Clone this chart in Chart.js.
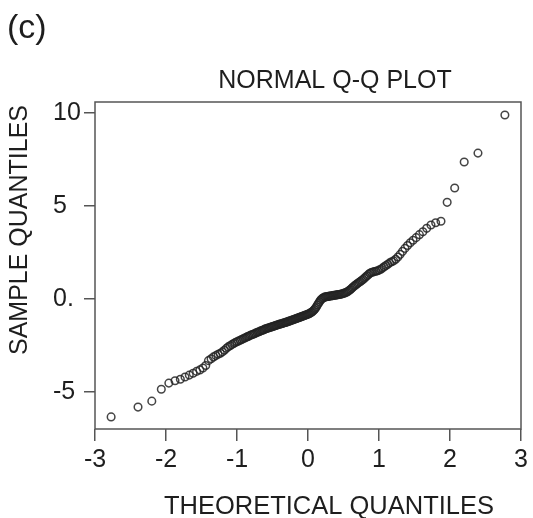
<!DOCTYPE html>
<html>
<head>
<meta charset="utf-8">
<script src="https://cdn.jsdelivr.net/npm/chart.js@4.4.1/dist/chart.umd.min.js"></script>
<style>
  html, body { margin: 0; padding: 0; background: #ffffff; }
  canvas { display: block; }
</style>
</head>
<body>
<canvas id="qq" width="533" height="518"></canvas>
<script>
// Normal quantiles for the 180 ordered observations
const theoreticalQuantiles = [
  -2.773, -2.394, -2.200, -2.066, -1.960, -1.873, -1.798, -1.732, -1.672, -1.618,
  -1.569, -1.523, -1.480, -1.440, -1.402, -1.365, -1.331, -1.298, -1.266, -1.235,
  -1.206, -1.178, -1.150, -1.124, -1.098, -1.073, -1.048, -1.025, -1.001, -0.979,
  -0.956, -0.935, -0.913, -0.892, -0.872, -0.852, -0.832, -0.812, -0.793, -0.774,
  -0.755, -0.737, -0.719, -0.701, -0.683, -0.666, -0.649, -0.631, -0.615, -0.598,
  -0.581, -0.565, -0.548, -0.532, -0.516, -0.501, -0.485, -0.469, -0.454, -0.439,
  -0.423, -0.408, -0.393, -0.378, -0.363, -0.349, -0.334, -0.319, -0.305, -0.290,
  -0.276, -0.261, -0.247, -0.233, -0.219, -0.204, -0.189, -0.176, -0.162, -0.147,
  -0.133, -0.119, -0.105, -0.091, -0.077, -0.063, -0.049, -0.035, -0.021, -0.007,
   0.007,  0.021,  0.035,  0.049,  0.063,  0.077,  0.091,  0.105,  0.119,  0.133,
   0.147,  0.162,  0.176,  0.189,  0.204,  0.219,  0.233,  0.247,  0.261,  0.276,
   0.290,  0.305,  0.319,  0.334,  0.349,  0.363,  0.378,  0.393,  0.408,  0.423,
   0.439,  0.454,  0.469,  0.485,  0.501,  0.516,  0.532,  0.548,  0.565,  0.581,
   0.598,  0.615,  0.631,  0.649,  0.666,  0.683,  0.701,  0.719,  0.737,  0.755,
   0.774,  0.793,  0.812,  0.832,  0.852,  0.872,  0.892,  0.913,  0.935,  0.956,
   0.979,  1.001,  1.025,  1.048,  1.073,  1.098,  1.124,  1.150,  1.178,  1.206,
   1.235,  1.266,  1.298,  1.331,  1.365,  1.402,  1.440,  1.480,  1.523,  1.569,
   1.618,  1.672,  1.732,  1.798,  1.873,  1.960,  2.066,  2.200,  2.394,  2.773
];

// Ordered sample values
const sampleQuantiles = [
  -6.35, -5.82, -5.50, -4.86, -4.53, -4.40, -4.32, -4.20, -4.10, -4.00,
  -3.90, -3.82, -3.72, -3.58, -3.32, -3.22, -3.12, -3.05, -2.98, -2.92,
  -2.85, -2.76, -2.66, -2.58, -2.52, -2.46, -2.40, -2.35, -2.30, -2.26,
  -2.22, -2.18, -2.14, -2.10, -2.07, -2.03, -2.00, -1.96, -1.93, -1.90,
  -1.87, -1.84, -1.81, -1.78, -1.75, -1.72, -1.70, -1.67, -1.64, -1.61,
  -1.59, -1.57, -1.55, -1.53, -1.51, -1.49, -1.47, -1.45, -1.43, -1.41,
  -1.39, -1.37, -1.35, -1.34, -1.32, -1.30, -1.28, -1.27, -1.25, -1.23,
  -1.21, -1.19, -1.17, -1.15, -1.13, -1.11, -1.09, -1.07, -1.05, -1.03,
  -1.01, -0.99, -0.97, -0.95, -0.93, -0.91, -0.89, -0.87, -0.85, -0.83,
  -0.81, -0.78, -0.75, -0.72, -0.68, -0.63, -0.57, -0.50, -0.42, -0.33,
  -0.24, -0.15, -0.07, -0.01,  0.03,  0.06,  0.10,  0.11,  0.12,  0.13,
   0.14,  0.15,  0.16,  0.17,  0.18,  0.19,  0.20,  0.21,  0.22,  0.23,
   0.24,  0.25,  0.26,  0.28,  0.30,  0.32,  0.34,  0.37,  0.41,  0.46,
   0.51,  0.57,  0.63,  0.69,  0.74,  0.79,  0.84,  0.89,  0.94,  0.99,
   1.05,  1.11,  1.18,  1.25,  1.32,  1.38,  1.42,  1.45,  1.47,  1.49,
   1.52,  1.55,  1.60,  1.66,  1.73,  1.80,  1.87,  1.94,  2.00,  2.05,
   2.14,  2.26,  2.40,  2.56,  2.72,  2.88,  3.02,  3.16,  3.30,  3.46,
   3.62,  3.80,  3.98,  4.10,  4.18,  5.20,  5.97,  7.37,  7.85,  9.90
];

const xTickValues = [-3, -2, -1, 0, 1, 2, 3];
const xTickLabels = ['-3', '-2', '-1', '0', '1', '2', '3'];
const yTickValues = [-5, 0, 5, 10];
const yTickLabels = ['-5', '0.', '5', '10'];

const panelLabel = '(c)';
const plotTitle = 'NORMAL Q-Q PLOT';
const xTitle = 'THEORETICAL QUANTILES';
const yTitle = 'SAMPLE QUANTILES';

const FONT = '"Liberation Sans", Arial, Helvetica, sans-serif';
const INK = '#1e1e1e';
const FRAME = '#555555';

// Frame around the plotting region plus the free-standing text
const framePlugin = {
  id: 'frameAndText',
  afterDraw(chart) {
    const { ctx, chartArea: a } = chart;
    ctx.save();
    ctx.strokeStyle = FRAME;
    ctx.lineWidth = 1.5;
    ctx.strokeRect(a.left, a.top, a.right - a.left, a.bottom - a.top);

    ctx.fillStyle = INK;
    ctx.textBaseline = 'alphabetic';

    ctx.font = '34px ' + FONT;
    ctx.textAlign = 'left';
    ctx.fillText(panelLabel, 7, 38);

    ctx.font = '25px ' + FONT;
    ctx.textAlign = 'center';
    ctx.fillText(plotTitle, 335, 88);

    ctx.font = '25.5px ' + FONT;
    ctx.fillText(xTitle, 329, 514);

    ctx.font = '25px ' + FONT;
    ctx.translate(27, 230);
    ctx.rotate(-Math.PI / 2);
    ctx.fillText(yTitle, 0, 0);
    ctx.restore();
  }
};

new Chart(document.getElementById('qq'), {
  type: 'scatter',
  data: {
    datasets: [{
      data: theoreticalQuantiles.map((q, i) => ({ x: q, y: sampleQuantiles[i] })),
      pointStyle: 'circle',
      pointRadius: 3.8,
      pointBorderWidth: 1.5,
      borderColor: 'rgba(35,35,35,0.85)',
      backgroundColor: 'rgba(0,0,0,0)',
      showLine: false
    }]
  },
  options: {
    responsive: false,
    animation: false,
    devicePixelRatio: 1,
    layout: { padding: { left: 53, right: 12, top: 102, bottom: 0 } },
    plugins: {
      legend: { display: false },
      title: { display: false },
      tooltip: { enabled: false }
    },
    scales: {
      x: {
        type: 'linear',
        min: -3,
        max: 3,
        afterBuildTicks: s => { s.ticks = xTickValues.map(v => ({ value: v })); },
        afterFit: s => { s.height = 89; },
        ticks: {
          autoSkip: false,
          maxRotation: 0,
          padding: 4,
          color: INK,
          font: { family: FONT, size: 25 },
          callback: v => xTickLabels[xTickValues.indexOf(v)]
        },
        grid: {
          drawOnChartArea: false,
          drawTicks: true,
          tickLength: 12,
          color: FRAME,
          lineWidth: 1.5
        },
        border: { display: false }
      },
      y: {
        type: 'linear',
        min: -7,
        max: 10.6,
        afterBuildTicks: s => { s.ticks = yTickValues.map(v => ({ value: v })); },
        afterFit: s => { s.width = 42; },
        ticks: {
          autoSkip: false,
          crossAlign: 'far',
          padding: 3,
          color: INK,
          font: { family: FONT, size: 25 },
          callback: v => yTickLabels[yTickValues.indexOf(v)]
        },
        grid: {
          drawOnChartArea: false,
          drawTicks: true,
          tickLength: 11,
          color: FRAME,
          lineWidth: 1.5
        },
        border: { display: false }
      }
    }
  },
  plugins: [framePlugin]
});
</script>
</body>
</html>
